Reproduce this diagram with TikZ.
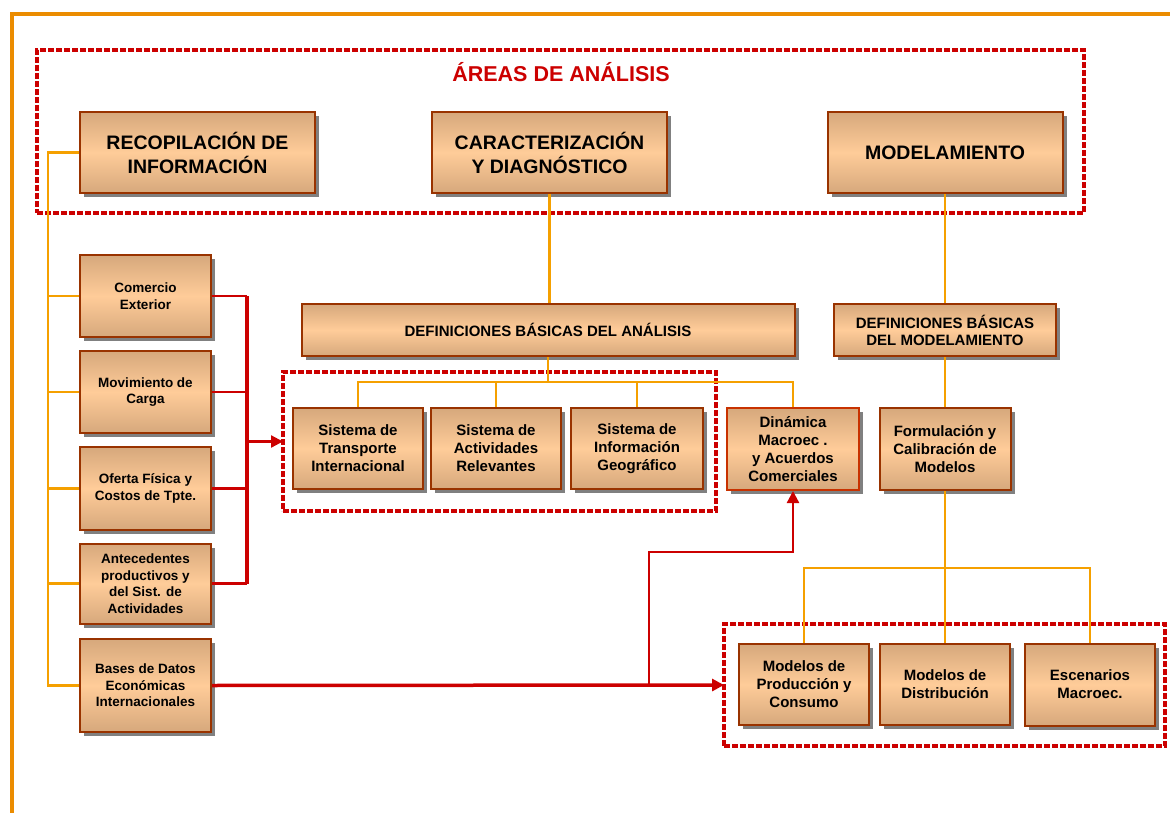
\documentclass[tikz,border=0pt]{standalone}
\usepackage{fontspec}
\setmainfont{Liberation Sans}
\usetikzlibrary{shadows,arrows.meta}
\definecolor{tanc}{RGB}{214,168,124}
\definecolor{peach}{RGB}{255,204,153}
\definecolor{brd}{RGB}{153,51,0}
\definecolor{brdr}{RGB}{200,50,0}
\definecolor{redc}{RGB}{204,0,0}
\definecolor{org}{RGB}{245,160,0}
\definecolor{framec}{RGB}{235,140,0}
\definecolor{shad}{RGB}{128,128,128}
\begin{document}
\begin{tikzpicture}[x=1pt,y=-1pt,
  box/.style={draw=brd, line width=2pt, top color=tanc, bottom color=tanc, middle color=peach,
    drop shadow={shadow xshift=4pt, shadow yshift=-4pt, fill=shad, opacity=1},
    inner sep=1pt, align=center, font=\fontsize{15}{18}\selectfont\bfseries},
  bigf/.style={font=\fontsize{19.5}{24}\selectfont\bfseries},
  smallf/.style={font=\fontsize{13.5}{16.5}\selectfont\bfseries},
  conn/.style={draw=org, line width=2.3pt},
  rl/.style={draw=redc, line width=2.3pt},
  rlb/.style={draw=redc, line width=3.5pt},
  rarrow/.style={-{Triangle[length=12pt,width=12pt]}},
  area/.style={draw=redc, line width=4.5pt, dash pattern=on 6pt off 2pt, outer sep=0pt, inner sep=0pt},
]
\useasboundingbox (0,0) rectangle (1170,813);
% frame
\draw[framec, line width=3.5pt] (12,813) -- (12,14) -- (1170,14);

% areas
\node[area, minimum width=1047pt, minimum height=163pt] (ar1) at (560.5,131.5) {};
\node[area, minimum width=433pt, minimum height=139pt] (ar2) at (499.5,441.5) {};
\node[area, minimum width=441pt, minimum height=122pt] (ar3) at (944.5,685) {};
\node[text=redc, font=\fontsize{21.5}{24}\selectfont\bfseries] (title) at (561,72) {ÁREAS DE ANÁLISIS};

% top boxes
\node[box, bigf, minimum width=235pt, minimum height=81pt] (rec) at (197.5,152.5) {RECOPILACIÓN DE\\INFORMACIÓN};
\node[box, bigf, minimum width=235pt, minimum height=81pt] (car) at (549.5,152.5) {CARACTERIZACIÓN\\Y DIAGNÓSTICO};
\node[box, bigf, minimum width=235pt, minimum height=81pt] (mod) at (945,152.5) {MODELAMIENTO};

% left column
\node[box, smallf, minimum width=131pt, minimum height=82pt] (ce) at (145.5,296) {Comercio\\Exterior};
\node[box, smallf, minimum width=131pt, minimum height=82pt] (mc) at (145.5,392) {Movimiento de\\Carga};
\node[box, smallf, minimum width=131pt, minimum height=83pt] (of) at (145.5,488.5) {Oferta Física y\\Costos de Tpte.};
\node[box, smallf, minimum width=131pt, minimum height=80pt] (an) at (145.5,583.5) {Antecedentes\\productivos y\\del Sist. de\\Actividades};
\node[box, smallf, minimum width=131pt, minimum height=93pt] (bd) at (145.5,685.5) {Bases de Datos\\Económicas\\Internacionales};

% definitions
\node[box, minimum width=493pt, minimum height=52pt] (defa) at (548,330) {DEFINICIONES BÁSICAS DEL ANÁLISIS};
\node[box, font=\fontsize{15}{17}\selectfont\bfseries, minimum width=222pt, minimum height=52pt] (defm) at (945,330) {DEFINICIONES BÁSICAS\\DEL MODELAMIENTO};

% systems
\node[box, minimum width=130pt, minimum height=81pt] (st) at (358,448.5) {Sistema de\\Transporte\\Internacional};
\node[box, minimum width=130pt, minimum height=81pt] (sa) at (496,448.5) {Sistema de\\Actividades\\Relevantes};
\node[box, minimum width=132pt, minimum height=81pt] (si) at (637,448.5) {Sistema de\\Información\\Geográfico};
\node[box, draw=brdr, minimum width=132pt, minimum height=82pt] (di) at (793,449) {Dinámica\\Macroec .\\y Acuerdos\\Comerciales};
\node[box, minimum width=131pt, minimum height=82pt] (fo) at (945,449) {Formulación y\\Calibración de\\Modelos};

% models
\node[box, minimum width=130pt, minimum height=81pt] (mp) at (804,684.5) {Modelos de\\Producción y\\Consumo};
\node[box, minimum width=130pt, minimum height=81pt] (md) at (945,684.5) {Modelos de\\Distribución};
\node[box, minimum width=130pt, minimum height=82pt] (me) at (1090,684.5) {Escenarios\\Macroec.};

% orange connectors
\coordinate (lbus) at (48,152.5);
\draw[conn] (rec.west) -- (lbus) |- (bd.west);
\draw[conn] (ce.west) -- (ce.west -| lbus);
\draw[conn] (mc.west) -- (mc.west -| lbus);
\draw[conn] (of.west) -- (of.west -| lbus);
\draw[conn] (an.west) -- (an.west -| lbus);

\draw[conn] (car.south) -- (car.south |- defa.north);
\coordinate (abus) at (548,382);
\draw[conn] (defa.south) -- (abus);
\draw[conn] (st.north) |- (abus) -| (di.north);
\draw[conn] (sa.north) -- (sa.north |- abus);
\draw[conn] (si.north) -- (si.north |- abus);

\draw[conn] (mod.south) -- (defm.north);
\draw[conn] (defm.south) -- (fo.north);
\draw[conn] (fo.south) -- (md.north);
\coordinate (mbus) at (945,568);
\draw[conn] (mp.north) |- (mbus) -| (me.north);

% red connectors
\coordinate (rbus) at (247,296);
\draw[rl] (ce.east) -- (rbus);
\draw[redc, line width=3.5pt] (rbus) -- (rbus |- an.east);
\draw[rl] (mc.east) -- (mc.east -| rbus);
\draw[rl] (of.east) -- (of.east -| rbus);
\draw[rl] (an.east) -- (an.east -| rbus);
\draw[rl, rarrow] (ar2.west -| rbus) -- (ar2.west);

\draw[rlb, rarrow] (bd.east) -- (ar3.west);
\coordinate (bx) at (649,552);
\draw[rl, rarrow] (bd.east -| bx) -- (bx) -| (di.south);
\end{tikzpicture}
\end{document}
